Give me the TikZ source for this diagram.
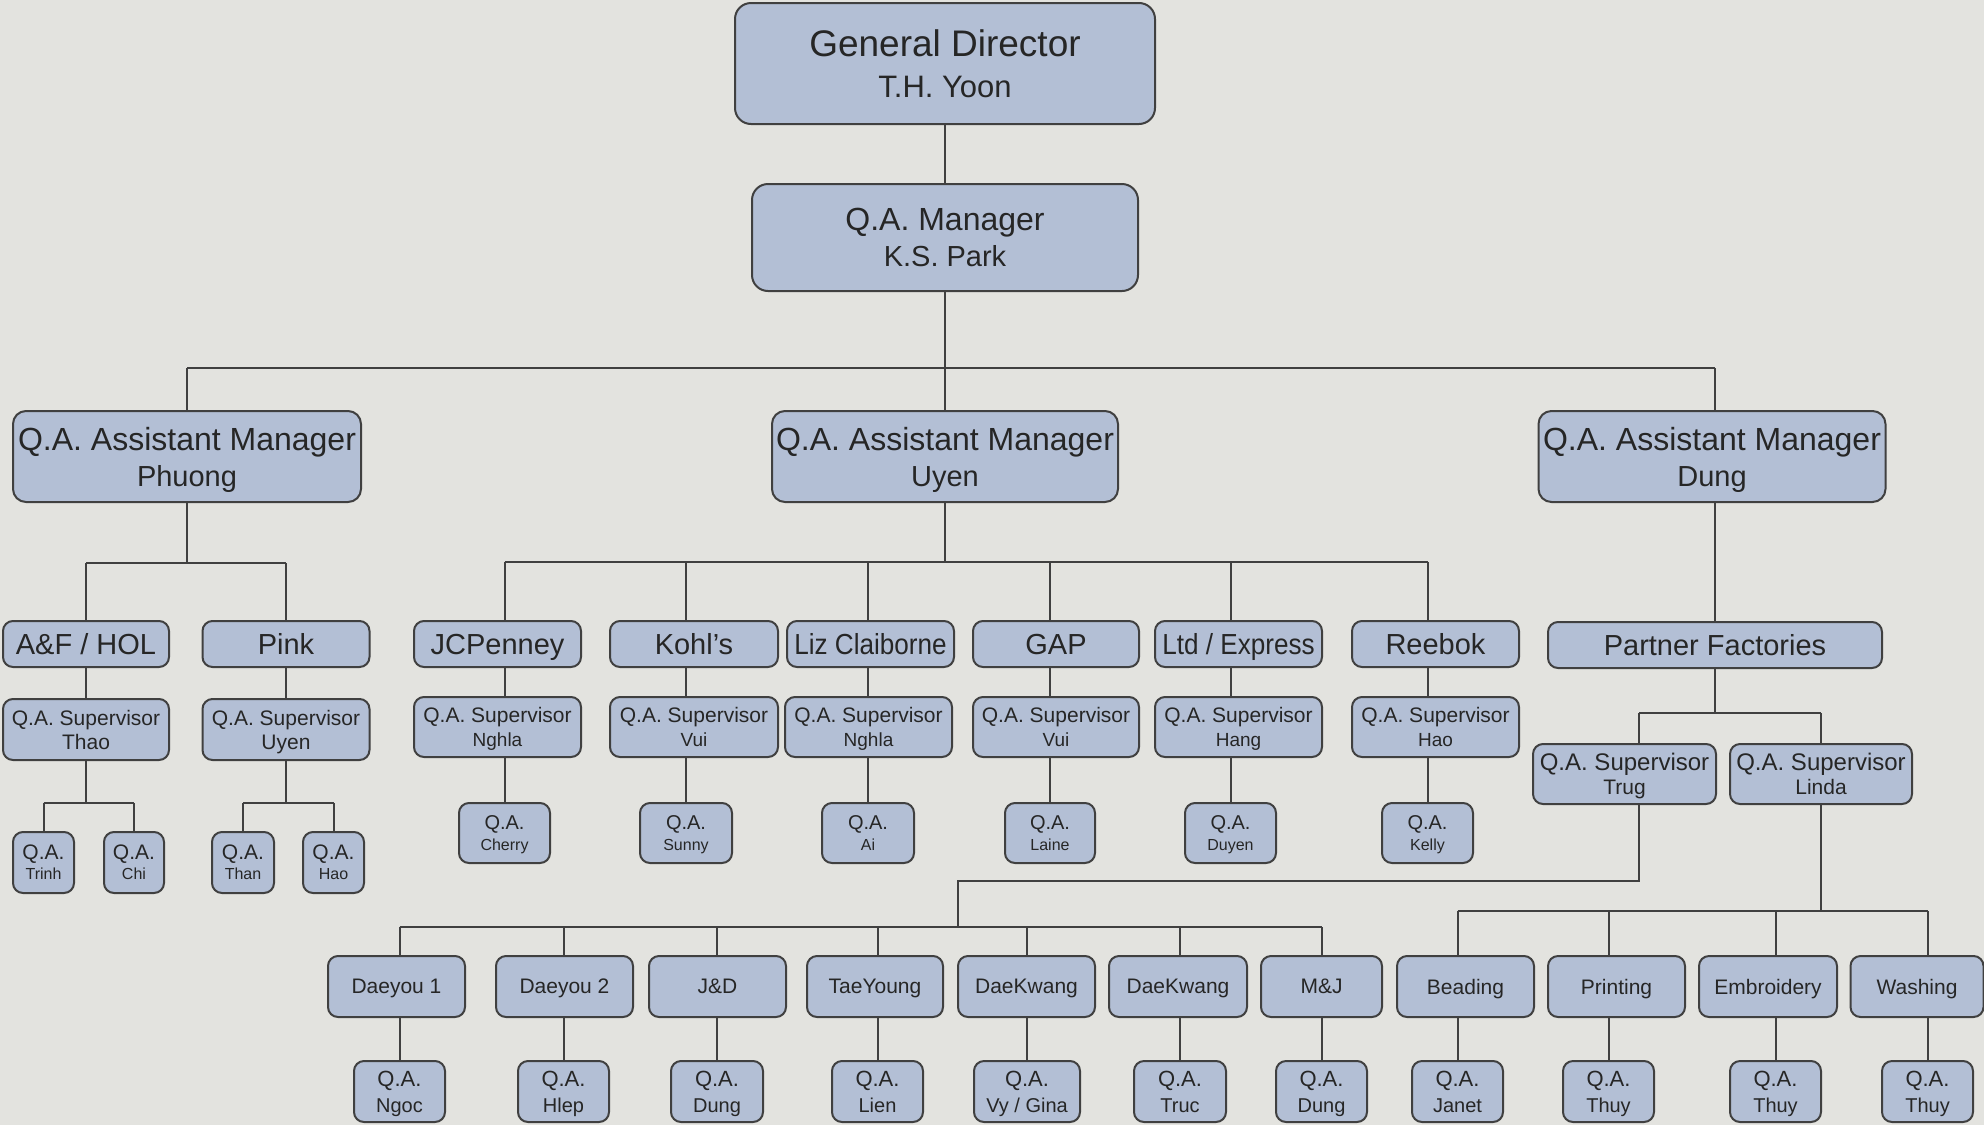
\documentclass[tikz,border=0pt]{standalone}
\usepackage{fontspec}
\setmainfont{Liberation Sans}
\definecolor{paperbg}{HTML}{E3E3DF}
\definecolor{boxfill}{HTML}{B3BFD5}
\definecolor{edge}{HTML}{404040}
\definecolor{ink}{HTML}{262626}
\pgfdeclarelayer{paper}
\pgfdeclarelayer{wires}
\pgfsetlayers{paper,wires,main}
\newcommand\sz[2]{\fontsize{#1}{#2}\selectfont}
\tikzset{
 ob/.style={draw=edge,line width=2pt,fill=boxfill,text=ink,inner sep=0pt,align=center,rounded corners=10pt,text depth=0pt},
 big/.style={ob,rounded corners=16pt},
 mid/.style={ob,rounded corners=13pt},
 wh/.style 2 args={minimum width=#1pt,minimum height=#2pt},
 conn/.style={draw=edge,line width=2pt},
}
\begin{document}
\begin{tikzpicture}[x=1pt,y=-1pt]
\useasboundingbox (0,0) rectangle (1984,1125);
\begin{pgfonlayer}{paper}
\fill[paperbg] (0,0) rectangle (1984,1125);
\end{pgfonlayer}

% top
\node[big,wh={420}{121},font=\sz{37}{41}] (gd) at (945,63.5) {General Director\\\sz{31}{41}T.H. Yoon};
\node[big,wh={386}{107},font=\sz{32}{36}] (mgr) at (945,237.5) {Q.A. Manager\\\sz{29}{36}K.S. Park};

% assistant managers
\node[mid,wh={348}{91},font=\sz{32}{36}] (phuong) at (187,456.5) {Q.A. Assistant Manager\\\sz{29}{36}Phuong};
\node[mid,wh={346}{91},font=\sz{32}{36}] (uyen) at (945,456.5) {Q.A. Assistant Manager\\\sz{29}{36}Uyen};
\node[mid,wh={347}{91},font=\sz{32}{36}] (dung) at (1712,456.5) {Q.A. Assistant Manager\\\sz{29}{36}Dung};

% Phuong branch
\node[ob,wh={166}{46},font=\sz{29}{32}] (af) at (86,644) {A\&F / HOL};
\node[ob,wh={167}{46},font=\sz{29}{32}] (pink) at (286,644) {Pink};
\node[ob,wh={166}{61},font=\sz{21}{24}] (thao) at (86,729.5) {Q.A. Supervisor\\Thao};
\node[ob,wh={167}{61},font=\sz{21}{24}] (suyen) at (286,729.5) {Q.A. Supervisor\\Uyen};
\node[ob,wh={61}{61},font=\sz{21}{20}] (trinh) at (43.5,862.5) {Q.A.\\\sz{16}{20}Trinh};
\node[ob,wh={60}{61},font=\sz{21}{20}] (chi) at (134,862.5) {Q.A.\\\sz{16}{20}Chi};
\node[ob,wh={62}{61},font=\sz{21}{20}] (than) at (243,862.5) {Q.A.\\\sz{16}{20}Than};
\node[ob,wh={61}{61},font=\sz{21}{20}] (hao) at (333.5,862.5) {Q.A.\\\sz{16}{20}Hao};

% Uyen branch
\node[ob,wh={167}{46},font=\sz{29}{32}] (jcp) at (497.5,644) {JCPenney};
\node[ob,wh={168}{46},font=\sz{29}{32}] (kohl) at (694,644) {Kohl’s};
\node[ob,wh={167}{46},font=\sz{29}{32}] (liz) at (870.5,644) {\scalebox{0.9}[1]{Liz Claiborne}};
\node[ob,wh={166}{46},font=\sz{29}{32}] (gap) at (1056,644) {GAP};
\node[ob,wh={167}{46},font=\sz{29}{32}] (ltd) at (1238.5,644) {\scalebox{0.9}[1]{Ltd / Express}};
\node[ob,wh={167}{46},font=\sz{29}{32}] (rbk) at (1435.5,644) {Reebok};

\node[ob,wh={167}{60},font=\sz{21}{24}] (jcps) at (497.5,727) {Q.A. Supervisor\\\sz{19}{24}Nghla};
\node[ob,wh={168}{60},font=\sz{21}{24}] (kohls) at (694,727) {Q.A. Supervisor\\\sz{19}{24}Vui};
\node[ob,wh={167}{60},font=\sz{21}{24}] (lizs) at (868.5,727) {Q.A. Supervisor\\\sz{19}{24}Nghla};
\node[ob,wh={166}{60},font=\sz{21}{24}] (gaps) at (1056,727) {Q.A. Supervisor\\\sz{19}{24}Vui};
\node[ob,wh={167}{60},font=\sz{21}{24}] (ltds) at (1238.5,727) {Q.A. Supervisor\\\sz{19}{24}Hang};
\node[ob,wh={167}{60},font=\sz{21}{24}] (rbks) at (1435.5,727) {Q.A. Supervisor\\\sz{19}{24}Hao};

\node[ob,wh={91}{60},font=\sz{20}{21}] (cherry) at (504.5,833) {Q.A.\\\sz{16}{21}Cherry};
\node[ob,wh={92}{60},font=\sz{20}{21}] (sunny) at (686,833) {Q.A.\\\sz{16}{21}Sunny};
\node[ob,wh={92}{60},font=\sz{20}{21}] (ai) at (868,833) {Q.A.\\\sz{16}{21}Ai};
\node[ob,wh={90}{60},font=\sz{20}{21}] (laine) at (1050,833) {Q.A.\\\sz{16}{21}Laine};
\node[ob,wh={91}{60},font=\sz{20}{21}] (duyen) at (1230.5,833) {Q.A.\\\sz{16}{21}Duyen};
\node[ob,wh={91}{60},font=\sz{20}{21}] (kelly) at (1427.5,833) {Q.A.\\\sz{16}{21}Kelly};

% Dung branch
\node[ob,wh={334}{46},font=\sz{29}{32}] (pf) at (1715,645) {Partner Factories};
\node[ob,wh={183}{60},font=\sz{24}{24}] (trug) at (1624.5,774) {Q.A. Supervisor\\\sz{21}{24}Trug};
\node[ob,wh={182}{60},font=\sz{24}{24}] (linda) at (1821,774) {Q.A. Supervisor\\\sz{21}{24}Linda};

% factories
\foreach \n/\x/\w/\t in {f1/396.5/137/Daeyou 1, f2/564.5/137/Daeyou 2, f3/717.5/137/J\&D, f4/875/136/TaeYoung, f5/1026.5/137/DaeKwang, f6/1178/138/DaeKwang, f7/1321.5/121/M\&J, f8/1465.5/137/Beading, f9/1616.5/137/Printing, f10/1768/138/Embroidery, f11/1917/133/Washing}
  \node[ob,wh={\w}{61},font=\sz{21}{24}] (\n) at (\x,986.5) {\t};

\foreach \n/\x/\w/\t in {q1/399.5/91/Ngoc, q2/563.5/91/Hlep, q3/717/92/Dung, q4/877.5/91/Lien, q5/1027/106/{Vy / Gina}, q6/1180/92/Truc, q7/1321.5/91/Dung, q8/1457.5/91/Janet, q9/1608.5/91/Thuy, q10/1775.5/91/Thuy, q11/1927.5/91/Thuy}
  \node[ob,wh={\w}{61},font=\sz{22}{26}] (\n) at (\x,1091.5) {Q.A.\\\sz{20}{26}\t};

% bus levels
\coordinate (busA) at (0,368);
\coordinate (busP) at (0,563);
\coordinate (busT) at (0,803);
\coordinate (busU) at (0,562);
\coordinate (busF) at (0,713);
\coordinate (tjoin) at (958,881);
\coordinate (busG) at (0,927);
\coordinate (busL) at (0,911);
\coordinate (trugx) at ([xshift=14.5pt]trug.center);

\begin{pgfonlayer}{wires}
\draw[conn] (gd.center) -- (mgr.center) -- (uyen.center);
\draw[conn] (phuong |- busA) -- (pf |- busA);
\draw[conn] (phuong.center) -- (phuong |- busA);
\draw[conn] (pf.center) -- (pf |- busA);
% Phuong
\draw[conn] (phuong.center) -- (phuong |- busP);
\draw[conn] (af |- busP) -- (pink |- busP);
\draw[conn] (af |- busP) -- (thao |- busT);
\draw[conn] (pink |- busP) -- (suyen |- busT);
\draw[conn] (trinh |- busT) -- (chi |- busT);
\draw[conn] (than |- busT) -- (hao |- busT);
\foreach \q in {trinh,chi,than,hao} \draw[conn] (\q.center) -- (\q |- busT);
% Uyen
\draw[conn] (uyen.center) -- (uyen |- busU);
\draw[conn] (cherry |- busU) -- (kelly |- busU);
\foreach \q in {cherry,sunny,ai,laine,duyen,kelly} \draw[conn] (\q.center) -- (\q |- busU);
% Dung
\draw[conn] (pf.center) -- (pf |- busF);
\draw[conn] (trugx |- busF) -- (linda |- busF);
\draw[conn] (linda.center) -- (linda |- busF);
\draw[conn] (trugx |- busF) |- (tjoin) -- (tjoin |- busG);
\draw[conn] (q1 |- busG) -- (q7 |- busG);
\foreach \q in {q1,q2,q3,q4,q5,q6,q7} \draw[conn] (\q.center) -- (\q |- busG);
\draw[conn] (linda.center) -- (linda |- busL);
\draw[conn] (q8 |- busL) -- (q11 |- busL);
\foreach \q in {q8,q9,q10,q11} \draw[conn] (\q.center) -- (\q |- busL);
\end{pgfonlayer}
\end{tikzpicture}
\end{document}
